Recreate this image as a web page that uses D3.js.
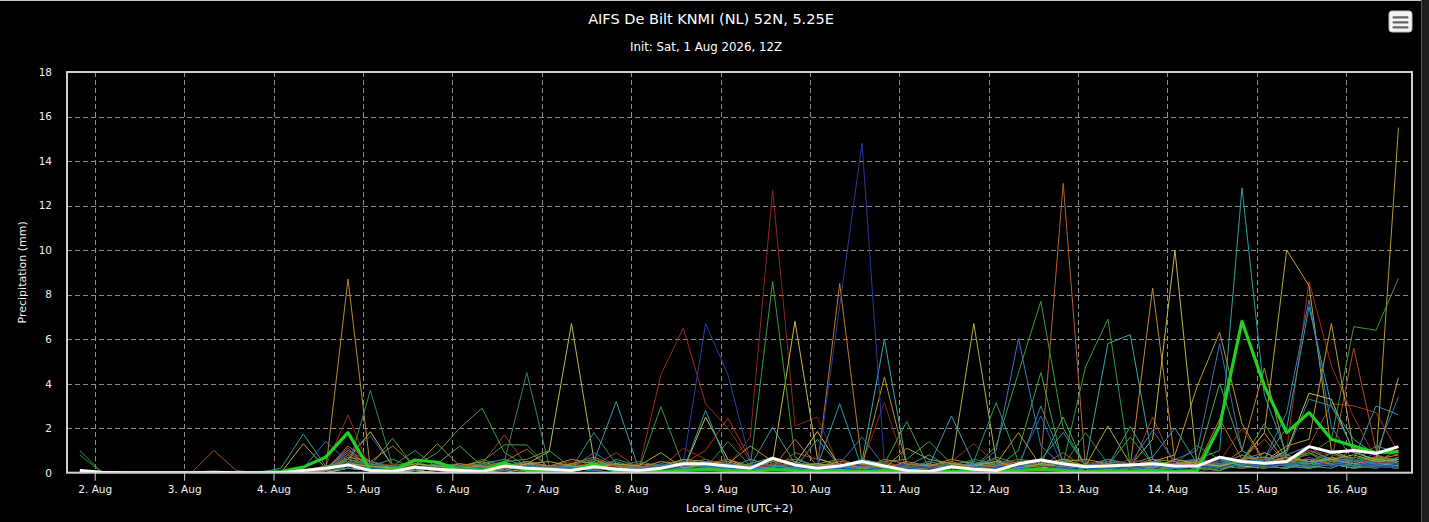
<!DOCTYPE html>
<html><head><meta charset="utf-8">
<script src="https://cdn.jsdelivr.net/npm/d3@7/dist/d3.min.js"></script>
<style>
html,body{margin:0;padding:0;background:#1e1e1e;overflow:hidden;}
svg{display:block;}
</style></head><body>
<svg id="chart" width="1429" height="522"></svg>
<script>
// ---------- DATA ----------
const titleText = "AIFS De Bilt KNMI (NL) 52N, 5.25E";
const subtitleText = "Init: Sat, 1 Aug 2026, 12Z";
const yTitle = "Precipitation (mm)";
const xTitle = "Local time (UTC+2)";
const firstTimeUTC = "2026-08-01T18:00:00Z";   // first 6-hourly step
const stepHours = 6;
const dayTickLabels = ["2. Aug","3. Aug","4. Aug","5. Aug","6. Aug","7. Aug","8. Aug","9. Aug","10. Aug","11. Aug","12. Aug","13. Aug","14. Aug","15. Aug","16. Aug"];
const yTickValues = [0,2,4,6,8,10,12,14,16,18];

// thick green line (control run)
const controlSeries = [0, 0,0,0,0, 0,0,0,0, .05,.25,.7,1.8, .1,.1,.57,.47, .12,.1,.45,.1, .05,.1,.4,.05, .05,.05,.1,.15, .1,.05,.15,.1, .05,.1,.05,.1, .05,.02,.05,.05, .05,.1,.15,.1, .05,.1,.05,.1, .05,.1,2.1,6.8, 3.9,1.8,2.7,1.5, 1.2,.9,.95];
// thick white line (ensemble mean)
const meanSeries = [.1, .02,0,0,0, 0,.02,0,0, 0,.1,.2,.35, .1,.05,.25,.15, .1,.05,.3,.2, .15,.1,.27,.15, .1,.2,.4,.4, .3,.2,.65,.35, .2,.3,.5,.3, .1,.05,.27,.15, .1,.4,.57,.4, .27,.3,.35,.4, .3,.3,.7,.5, .42,.5,1.17,.92, 1.0,.87,1.17];

// ensemble members (mm per 6 h)
const m01 = [0, 0,0,0,0, 0,0,0,0, 0,.1,.3,2.6, .1,0,.2,.1, 0,.1,.2,0, .1,.2,.1,0, .1,4.4,6.5,3.1, 2.0,.5,.2,.3, .1,.2,0,.3, .2,0,.1,.4, .2,.5,.3,.1, 0,.2,.4,.3, .1,0,.3,.2, .4,1.0,8.6,4.8, 2.5,.6,.4];
const m02 = [0, 0,0,0,0, 0,0,0,0, 0,0,.1,.2, .1,.3,.1,0, .2,0,.1,.3, 0,.1,.2,.1, 0,.3,.2,.5, .3,1.6,12.7,2.1, 2.5,.2,.4,3.15, .1,0,.2,.3, .1,.3,.2,.5, .3,.1,.2,.6, .2,.1,.4,.8, .3,.5,.2,.6, .4,.3,.7];
const m03 = [0, 0,0,0,0, 0,0,0,0, 0,0,.2,1.0, .3,.1,.2,.1, .1,.4,1.7,.3, .1,.2,.3,.9, .2,.1,.4,1.0, 2.45,.6,.3,.2, .1,.3,.2,.4, .2,.1,.3,.2, .4,.2,.6,.3, .2,.3,.1,2.5, .3,.2,.4,.5, .6,.8,1.2,3.1, 3.0,2.7,.9];
const m04 = [0, 0,0,0,0, 0,0,0,0, 0,0,.1,1.1, .2,.1,.3,.2, 0,.1,.4,.2, .3,.1,.6,.2, .1,.2,.1,.4, .3,.2,.1,.9, .6,.4,.2,.1, .3,.1,.2,.1, .2,.4,.3,.9, .2,.6,.3,.4, .5,.3,.2,.6, 1.5,.4,.3,.5, 5.6,1.0,.8];
const m05 = [0, 0,0,0,0, 0,0,0,0, 0,0,.1,.8, .2,.1,.3,.2, .1,.3,.5,1.06, .2,.1,.3,.2, .1,.2,.4,.1, .3,.2,.5,.2, .4,.1,.2,.3, .1,.2,.3,.4, .2,.3,.5,13.0, .2,.3,.1,.4, .2,.5,.3,.4, .2,.8,.5,.3, .6,.4,.3];
const m06 = [0, 0,0,0,0, 0,0,0,0, 0,.1,.2,.9, .3,.1,.2,.4, .2,.1,.3,.5, .1,.2,.1,.3, .2,.1,.6,.3, .2,.1,.3,.4, .2,8.5,.4,.3, .1,.2,.3,.1, .3,.2,.4,.2, .1,.3,.2,.5, .3,.2,.1,.6, 1.8,.4,.9,.3, .5,.7,.4];
const m07 = [0, 0,0,0,0, 0,1.0,.1,0, 0,0,.1,.4, .2,.1,0,.1, .1,.2,.1,.3, .2,.4,.2,.1, 0,.3,.2,.4, .1,.3,.2,.1, .3,.2,.1,.5, .2,.1,0,.2, .4,.2,.3,.2, .1,.2,.4,.3, .3,.4,.6,.2, .4,.3,.5,.7, .3,.4,.6];
const m08 = [0, 0,0,0,0, 0,0,0,0, 0,0,.1,8.7, .2,0,.1,.2, 0,.1,.3,.2, .1,.4,.2,.1, .2,.1,.3,.2, .1,.4,.2,.3, .1,.2,.3,.2, .3,.1,.2,.1, .2,.4,.1,.3, .2,.1,.3,.2, .4,.2,.3,1.0, 4.7,.6,.3,.4, .2,.3,.5];
const m09 = [0, 0,0,0,0, 0,0,0,0, 0,.1,0,.5, .1,.2,.1,0, .1,0,.2,.3, .2,.1,.5,.2, .1,.3,.2,.4, .2,.1,.3,.2, .1,.2,.3,4.3, .3,.2,.1,.3, .2,.1,.4,.2, .3,.2,.3,8.3, .5,.2,.3,.4, .3,.6,.2,.4, .3,.5,.2];
const m10 = [0, 0,0,0,0, 0,0,0,0, 0,0,.1,.3, .2,.1,.2,.1, .1,.2,.1,.2, .3,.1,.2,.4, .2,.1,.3,.2, .1,.3,.2,.5, .2,.1,.3,.2, .1,.4,.2,.1, .3,.2,.1,.4, .2,.5,.3,.2, .4,.3,.2,.5, 1.8,10.0,8.4,1.0, .6,.3,.4];
const m11 = [0, 0,0,0,0, 0,0,0,0, 0,0,0,.2, .1,0,.1,.2, .1,.2,.1,.3, .2,.1,.3,.2, .1,.2,.1,.3, .2,.1,.4,.3, .1,.2,.1,.3, .2,.1,.3,.2, .1,.3,.2,.4, .2,.1,.3,.5, .8,3.9,6.3,2.2, .5,.3,.6,.4, .3,.57,15.5];
const m12 = [0, 0,0,0,0, 0,0,0,0, 0,0,.1,.4, .1,.2,.1,.2, .1,0,.2,.1, .2,.3,.1,.2, .1,.2,.2,.3, .2,.4,.1,.2, .3,.1,.2,.1, .2,.3,.1,.2, .1,.2,.5,.3, .2,.3,.2,.1, .3,.2,.4,.3, .5,1.2,1.5,6.7, 1.0,.5,4.27];
const m13 = [0, 0,0,0,0, 0,0,0,0, 0,0,.1,.3, .2,0,.1,.2, .1,.3,.2,.4, .95,6.7,.6,.2, .1,.2,.4,.3, .2,.1,.3,.2, .4,.2,.1,.3, .2,.1,.3,.2, .1,.3,.2,.4, .2,.1,.3,1.5, 10.0,.2,.4,.3, .2,.5,.3,.6, .4,.3,.2];
const m14 = [0, 0,0,0,0, 0,0,0,0, 0,0,.2,.6, 1.84,.3,.1,.2, .1,.2,.3,.1, .2,.1,.3,.4, .2,.1,.3,.2, .4,.2,.5,6.8, .65,.3,.2,.1, .3,.2,.1,.4, .2,.1,.3,.2, .4,.3,.2,.1, .3,.5,.2,.4, .2,.4,.6,.3, .5,.2,.7];
const m15 = [0, 0,0,0,0, 0,0,0,0, 0,1.3,.2,.3, .2,.1,.3,.1, .2,.1,0,.2, .1,.3,.2,.1, .3,.2,.1,.2, .2,.3,.1,.4, .2,.1,.3,.2, .1,.2,.3,6.7, .57,.2,.4,.3, .2,.1,.3,.2, .4,.2,.3,.5, .3,.2,.4,.6, .3,.5,.4];
const m16 = [0, 0,0,0,0, 0,0,0,0, 0,0,0,.2, .1,.2,.1,0, .1,.2,.1,.3, .2,.1,.2,.1, .2,.3,.1,2.5, .6,.2,.1,.4, 1.85,.3,.2,.1, .2,.1,.3,.2, .3,.2,.1,.5, .2,.3,.4,.2, .3,.2,.5,.4, .5,1.0,3.57,3.3, .9,.6,.5];
const m17 = [0, 0,0,0,0, 0,0,0,0, 0,0,.1,.3, .2,.1,.2,.3, .1,.2,.3,.1, .2,.1,.2,.3, .1,.3,.2,.4, .2,.3,8.6,.7, .2,.1,.3,.2, .1,.2,.4,.3, .2,.1,.3,.2, .1,.3,.2,.4, .3,.2,.1,.5, .4,.6,.8,1.5, 6.56,6.4,8.73];
const m18 = [0, 0,0,0,0, 0,0,0,0, 0,0,.1,.4, .2,.1,.3,.9, 2.0,2.9,.9,.3, .1,.2,.3,.2, .1,.2,.3,.1, .3,.2,.1,.2, .4,.1,.2,.3, .2,.3,.1,.2, 1.2,4.5,7.7,2.0, .3,.2,.4,.1, .2,.3,.5,.4, .3,.2,.6,.4, .5,.3,.2];
const m19 = [0, 0,0,0,0, 0,0,0,0, 0,.1,.2,.5, .3,.2,.1,.3, .2,.1,.3,.2, .1,.2,.1,.3, .1,2.97,.3,.2, .1,.3,.2,.1, .2,.4,.1,.3, .2,.1,.3,.2, .3,.2,.1,.4, 4.76,6.9,.3,.2, .4,.2,.3,.5, .2,.4,.3,.6, .3,.4,.5];
const m20 = [0, 0,0,0,0, 0,0,0,0, 0,.1,.2,.6, .3,1.55,.2,.1, .3,.2,.1,.2, .1,.3,.2,.1, .2,.1,.4,.3, .2,.1,.3,.2, .1,.3,.2,.4, 2.3,.2,.1,.3, .2,1.0,4.5,.3, .2,.1,.4,.3, .2,.3,.1,.4, .5,.3,.2,.4, .6,.3,.4];
const m21 = [0, 0,0,0,0, 0,0,0,0, 0,0,.2,.4, .1,.3,.2,.4, 1.2,.3,.2,.1, .2,.1,.3,.2, .3,.2,.1,.4, .1,.3,.2,.2, .3,.1,.2,.1, .2,.4,.1,.2, .3,.2,.4,2.5, .2,.3,.1,.2, .3,.5,4.0,1.0, .3,.2,.5,.4, .2,.6,.3];
const m22 = [1.0, 0,0,0,0, 0,0,0,0, 0,0,.1,.3, .2,.1,.4,.2, .3,.5,1.25,1.25, .2,.1,.3,.2, .1,.2,.3,.2, .4,.1,.2,.3, .2,.1,.3,.2, .1,.3,.2,.5, .3,.2,.1,.4, .2,.3,.2,.1, .4,.2,.3,.2, .3,.5,.2,.4, .4,.3,.6];
const m23 = [.8, 0,0,0,0, 0,0,0,0, 0,.1,.1,.5, .4,.2,.3,.1, .2,.6,.3,.2, .1,.2,.4,.3, .2,.1,.3,.5, .3,.2,.1,.4, .2,.3,.1,.2, .4,.2,.3,.1, .2,.4,.3,.2, .3,.1,.2,.4, .2,.3,.6,.3, .7,.4,.3,.5, .3,.2,.4];
const m24 = [0, 0,0,0,0, 0,0,0,0, 0,0,.1,.2, 3.7,.3,.2,.1, .2,.1,.5,4.5, .3,.2,.1,.2, .3,.1,.2,.4, .2,.3,.1,.2, .1,.2,.4,.3, .2,.1,.3,.2, .4,.2,.1,.3, .2,.3,.2,.4, .1,.3,.2,.5, .3,.2,.4,.3, .5,.3,.2];
const m25 = [0, 0,0,0,0, 0,0,0,0, 0,0,.1,.3, .2,.3,1.0,.2, .1,.3,.2,.1, .2,.1,.3,.2, .1,.4,.2,.3, .2,.1,.3,.4, .3,.2,.1,.2, .2,.3,.4,.5, 3.15,.5,.3,.2, .1,.3,.2,.4, .3,.2,.3,.6, .4,.7,.3,.5, .4,.2,.5];
const m26 = [0, 0,0,0,0, 0,0,0,0, .2,1.74,.3,.5, .2,.1,.3,.2, .1,.2,.1,.3, .2,.3,.1,.2, .1,.3,.2,.1, .3,.2,.4,.2, .1,.3,.2,.4, .2,.1,.3,.2, .3,.2,.4,.1, .2,.3,.1,.3, .4,.6,1.0,12.8, 3.5,.8,.4,.6, .3,.4,.5];
const m27 = [0, 0,0,0,0, 0,0,0,0, 0,0,.1,.4, .3,.1,.2,.3, .2,.1,.2,.4, .1,.3,.2,.1, .2,.1,.3,.2, .4,.2,.1,.3, .2,.1,.5,6.0, .3,.2,.1,.4, .2,.3,.2,.1, .4,5.8,6.2,.6, .3,.2,.4,.3, .5,.4,.3,.2, .6,.4,.3];
const m28 = [0, 0,0,0,0, 0,0,0,0, 0,.1,.2,.4, .2,.1,.3,.1, .2,.1,.3,.2, .1,.4,.5,3.2, .2,.1,.3,.2, .3,.2,.1,.4, .2,.3,.1,.2, .1,.3,2.55,.4, .2,.3,.1,.2, .3,.2,.4,.1, .2,.3,.2,.4, .6,.3,.5,.4, .2,.5,.3];
const m29 = [0, 0,0,0,0, 0,0,0,0, 0,0,.1,.3, .2,.1,.2,.1, .3,.2,.1,.2, .1,.2,.3,.2, .4,.2,.1,2.8, .3,.2,.4,.1, .3,3.1,.2,.3, .2,.4,.1,.2, .3,.2,.1,.3, .2,.1,.3,.4, .3,.2,.5,.6, .4,.3,.2,.9, .6,3.0,2.6];
const m30 = [0, 0,0,0,0, 0,0,0,0, 0,0,.1,.5, .3,.2,.1,.2, .1,.3,.2,.1, .2,.1,.3,.2, .1,.2,.4,.3, .2,.3,2.05,.4, .2,.1,.3,.2, .4,.2,.1,.3, .2,.3,.4,.2, .1,.3,2.07,.4, .2,.3,.4,.5, .6,2.0,7.45,3.0, 1.5,.8,.4];
const m31 = [0, 0,0,0,0, 0,0,0,0, 0,0,.1,.2, .1,.3,.2,.4, .2,.1,.3,.5, .3,.2,1.8,.4, .2,.3,.1,.2, .3,.1,.2,.3, .2,.4,.1,.2, .3,.2,.3,.1, .4,.2,3.0,.5, .3,.2,.1,.3, .2,.4,.3,.8, .5,.9,3.3,3.0, 1.0,.4,.5];
const m32 = [0, 0,0,0,0, 0,0,0,0, 0,0,.1,.3, .2,.1,.3,.2, .1,.2,.4,.1, .3,.2,.1,.2, .2,.1,.3,.4, .2,.3,.1,.2, .1,.2,.4,.3, .2,.1,.3,.2, 1.0,6.04,1.2,.3, .2,.4,.1,.3, .2,.3,.5,.4, .6,2.7,7.76,2.07, .5,.3,.6];
const m33 = [0, 0,0,0,0, 0,0,0,0, 0,.2,1.4,.5, .3,.1,.2,.1, .2,.4,.2,.1, .2,.1,.3,.2, .1,.3,.2,.1, .2,.4,.1,.3, .2,.1,.3,.2, .4,.2,.1,.3, .2,.3,.1,.4, .3,.2,.4,.2, .6,1.0,5.8,1.0, .4,.3,.5,.6, .4,.9,3.4];
const m34 = [0, 0,0,0,0, 0,0,0,0, 0,0,.2,.8, 1.65,.3,.2,.4, .3,.2,.1,.3, .2,.1,.4,.2, .3,.2,.1,.3, .2,.1,.3,.2, .4,.2,.1,.3, .2,.3,.1,.2, .3,.4,2.55,.2, .1,.3,.2,.4, .3,.2,.4,.3, .5,.3,.7,.4, .3,.4,.2];
const m35 = [0, 0,0,0,0, 0,0,0,0, 0,0,.1,.3, .2,.1,.2,.4, .3,.2,.1,.2, .1,.3,.2,.1, .2,.1,.3,.2, .1,.4,.2,.3, .2,7.5,14.8,.4, .2,.1,.3,.2, .3,.2,.1,.4, .2,.1,.3,.2, .4,.3,.2,.5, .3,.4,.6,.3, .5,.2,.4];
const m36 = [0, 0,0,0,0, 0,0,0,0, 0,0,.2,.4, .2,.1,.3,.1, .2,.1,.2,.3, .1,.2,.1,.3, .2,.1,.4,6.7, 4.4,.5,.2,.1, .3,.2,.1,.2, .4,.2,.1,.3, .2,.3,.2,.1, .3,.2,.4,.2, .1,.3,.5,.4, .2,.5,.3,.4, .6,.3,.2];
const m37 = [0, 0,0,0,0, 0,0,0,0, 0,0,.2,.6, .4,.2,.1,.3, .2,.4,.6,.3, .2,.3,.1,.6, .3,.2,.5,.4, .2,.6,.3,.2, 1.5,.3,.6,.4, .3,.8,.2,.4, .5,.3,.6,1.8, .3,.6,.4,.7, 2.0,.4,.6,.3, .9,.5,.4,.7, .5,1.2,.9];
const m38 = [0, 0,0,0,0, 0,0,0,0, 0,.1,.3,.5, .3,.6,.2,.4, .3,.2,.5,.6, 1.0,.2,.3,.5, .2,.5,.4,.6, .3,.4,.7,.3, .4,.6,.3,.5, .6,1.4,.4,.2, .7,.4,.3,.6, .5,.3,1.6,.4, .3,.6,.4,.5, 2.2,.6,.9,.5, .7,.5,1.0];
const m39 = [0, 0,0,0,0, 0,0,0,0, 0,0,.1,.7, .5,.2,.3,1.3, .3,.5,.2,.4, .3,.6,.4,.2, .4,.3,.6,.5, .4,1.2,.5,.6, .3,.5,.4,.2, .5,.3,.6,.4, .4,1.8,.3,.5, .6,.4,.3,.5, .4,.5,.3,.6, .7,.5,1.0,.6, .4,.6,.8];
const m40 = [0, 0,0,0,0, 0,0,0,0, 0,0,.2,1.0, .5,.3,.2,.3, .4,.2,.3,.2, .3,.2,.9,.3, .2,.4,.3,.5, .4,.3,.2,.6, .3,.4,1.6,.3, .2,.5,.3,.4, .6,.3,.5,.4, .3,.5,.4,1.9, .5,.6,.4,.5, .6,.8,1.2,.5, .6,.4,.7];
const m41 = [0, 0,0,0,0, 0,0,0,0, 0,0,.1,.5, .3,.4,.2,.1, .2,.3,.4,.2, .3,.5,.2,.3, .4,.2,1.1,.6, .3,.2,.4,.3, .2,.6,.3,.4, .3,.2,.5,1.3, .4,.5,.3,.2, .5,.3,.6,.4, .3,.4,.5,2.0, .5,.6,1.0,.8, .6,.5,.4];
const m42 = [0, 0,0,0,0, 0,0,0,0, 0,.1,.2,.6, .4,.3,.5,.2, .3,.4,.2,.5, .2,.4,.6,.3, .5,.3,.4,.2, 1.4,.3,.5,.4, .4,.2,.6,.3, .2,.5,.3,.6, .4,.6,.5,.3, 1.8,.4,.3,.5, .4,1.2,.6,.4, .6,.4,.5,.9, .5,.7,.6];
const m43 = [0, 0,0,0,0, 0,0,0,0, 0,0,.1,.4, .3,.2,.4,.3, .2,.3,.1,.4, .5,.3,.2,.4, .3,.9,.2,.4, .5,.2,.6,.3, .4,.3,.5,.2, 1.1,.6,.4,.3, .5,.2,.4,.6, .3,2.1,.4,.2, .6,.4,.3,.5, .4,.7,.5,.6, .8,.5,.6];
const m44 = [0, 0,0,0,0, 0,0,0,0, 0,0,.1,1.2, .5,1.2,.3,.2, .4,.3,.2,.5, .3,.4,.7,.3, .2,.5,.3,.4, .6,.3,.2,1.5, .3,.4,.2,.6, .4,.3,.5,.2, .3,.5,.6,.4, .2,.4,.3,.6, .5,.3,2.4,.6, .9,.5,.6,.4, 1.1,.8,.5];

const memberSeries = [m01,m02,m03,m04,m05,m06,m07,m08,m09,m10,m11,m12,m13,m14,m15,m16,m17,m18,m19,m20,m21,m22,m23,m24,m25,m26,m27,m28,m29,m30,m31,m32,m33,m34,m35,m36,m37,m38,m39,m40,m41,m42,m43,m44];
const memberColors = ["#9e2a22","#8e2620","#a8382a","#b8482a","#b06028","#c07a2a","#a0562d","#b8892a","#c08a2c","#c0a030","#b89a2a","#c09a38","#c0b848","#c8b840","#b0b040","#c8c050","#3a9a3a","#3aa040","#2e9a40","#40a040","#50a850","#3a9a3a","#2a8a3a","#2e8b57","#2a9a70","#2aa0a0","#3aa8a8","#3a98b8","#2a9ab0","#30a0a0","#2a9090","#3a78c0","#3a70b8","#2a60b0","#2838a0","#2a40a8","#3a9a9a","#40a040","#b89030","#3a70c0","#9a3020","#2e8b57","#a8a838","#c07030"];

// ---------- CHART ----------
const W = 1429, H = 522, chartW = 1422;
const plot = {left: 67, right: 1412, top: 72, bottom: 472.7};
const svg = d3.select("#chart");
const font = "'DejaVu Sans', Verdana, sans-serif";

svg.append("rect").attr("x",0).attr("y",0).attr("width",chartW).attr("height",H).attr("fill","#000");
svg.append("line").attr("x1",0).attr("x2",chartW).attr("y1",0.5).attr("y2",0.5).attr("stroke","#c8c8c8").attr("stroke-width",1);
svg.append("line").attr("x1",chartW-0.5).attr("x2",chartW-0.5).attr("y1",0).attr("y2",H).attr("stroke","#555").attr("stroke-width",1);

const HOUR = 3600e3;
const t0 = new Date(firstTimeUTC).getTime();
const times = controlSeries.map((_, i) => new Date(t0 + i * stepHours * HOUR));
const tLast = times[times.length - 1].getTime();

const x = d3.scaleUtc()
  .domain([new Date(t0 - 3.44 * HOUR), new Date(tLast + 3.64 * HOUR)])
  .range([plot.left, plot.right]);
const y = d3.scaleLinear().domain([0, 18]).range([plot.bottom, plot.top]);

// local midnight (UTC+2) tick dates parsed from the labels
const tickDates = dayTickLabels.map(l => {
  const d = parseInt(l, 10);
  return new Date(Date.UTC(2026, 7, d, 0) - 2 * HOUR);
});

// grid
const grid = svg.append("g");
grid.selectAll("line.h").data(yTickValues.filter(v => v > 0 && v < 18)).join("line")
  .attr("x1", plot.left).attr("x2", plot.right)
  .attr("y1", d => Math.round(y(d)) + 0.5).attr("y2", d => Math.round(y(d)) + 0.5)
  .attr("stroke", "#8c8c8c").attr("stroke-width", 1).attr("stroke-dasharray", "5,3");
grid.selectAll("line.v").data(tickDates).join("line")
  .attr("x1", d => Math.round(x(d)) + 0.5).attr("x2", d => Math.round(x(d)) + 0.5)
  .attr("y1", plot.top).attr("y2", plot.bottom)
  .attr("stroke", "#8c8c8c").attr("stroke-width", 1).attr("stroke-dasharray", "5,3");

// series
svg.append("defs").append("clipPath").attr("id","pc").append("rect")
  .attr("x", plot.left).attr("y", plot.top).attr("width", plot.right - plot.left).attr("height", plot.bottom - plot.top);
const line = d3.line().x((d, i) => x(times[i])).y(d => y(d));
const series = svg.append("g").attr("clip-path", "url(#pc)");
series.selectAll("path.m").data(memberSeries).join("path")
  .attr("d", d => line(d)).attr("fill", "none")
  .attr("stroke", (d, i) => memberColors[i % memberColors.length])
  .attr("stroke-width", 1).attr("stroke-linejoin", "round");
series.append("path").attr("d", line(controlSeries)).attr("fill","none")
  .attr("stroke","#1fd01f").attr("stroke-width",3.2).attr("stroke-linejoin","round");
series.append("path").attr("d", line(meanSeries)).attr("fill","none")
  .attr("stroke","#ffffff").attr("stroke-width",3).attr("stroke-linejoin","round");

// plot frame
svg.append("rect").attr("x", plot.left).attr("y", plot.top)
  .attr("width", plot.right - plot.left).attr("height", plot.bottom - plot.top)
  .attr("fill","none").attr("stroke","#cfcfcf").attr("stroke-width",2);

// x axis
const xAxis = d3.axisBottom(x).tickValues(tickDates).tickFormat((d, i) => dayTickLabels[i]).tickSize(8).tickPadding(5);
const gx = svg.append("g").attr("transform", `translate(0,${plot.bottom})`).call(xAxis);
gx.select(".domain").remove();
gx.selectAll(".tick line").attr("stroke", "#cfcfcf").attr("stroke-width", 1);
gx.selectAll(".tick text").attr("fill", "#f0f0f0").attr("font-family", font).attr("font-size", "10.5px");

// y axis
const yAxis = d3.axisLeft(y).tickValues(yTickValues).tickSize(0).tickPadding(15);
const gy = svg.append("g").attr("transform", `translate(${plot.left},0)`).call(yAxis);
gy.select(".domain").remove();
gy.selectAll(".tick text").attr("fill", "#f0f0f0").attr("font-family", font).attr("font-size", "10.5px");

// titles
svg.append("text").attr("x", 711).attr("y", 24).attr("text-anchor","middle")
  .attr("fill","#fff").attr("font-family",font).attr("font-size","14.5px").text(titleText);
svg.append("text").attr("x", 706).attr("y", 51).attr("text-anchor","middle")
  .attr("fill","#fff").attr("font-family",font).attr("font-size","11.8px").attr("font-weight","500").text(subtitleText);
svg.append("text").attr("transform", `translate(26,${(plot.top + plot.bottom) / 2}) rotate(-90)`)
  .attr("text-anchor","middle").attr("fill","#f0f0f0").attr("font-family",font).attr("font-size","11px").text(yTitle);
svg.append("text").attr("x", (plot.left + plot.right) / 2).attr("y", 512).attr("text-anchor","middle")
  .attr("fill","#f0f0f0").attr("font-family",font).attr("font-size","11px").text(xTitle);

// menu button
const mb = svg.append("g");
mb.append("rect").attr("x",1389).attr("y",11).attr("width",23).attr("height",21).attr("rx",3)
  .attr("fill","#f4f4f4").attr("stroke","#bbb").attr("stroke-width",1);
mb.selectAll("rect.bar").data([16.2, 21.2, 26.2]).join("rect")
  .attr("x",1392.5).attr("width",16).attr("y",d => d).attr("height",2.4).attr("rx",1).attr("fill","#666");
</script>
</body></html>
